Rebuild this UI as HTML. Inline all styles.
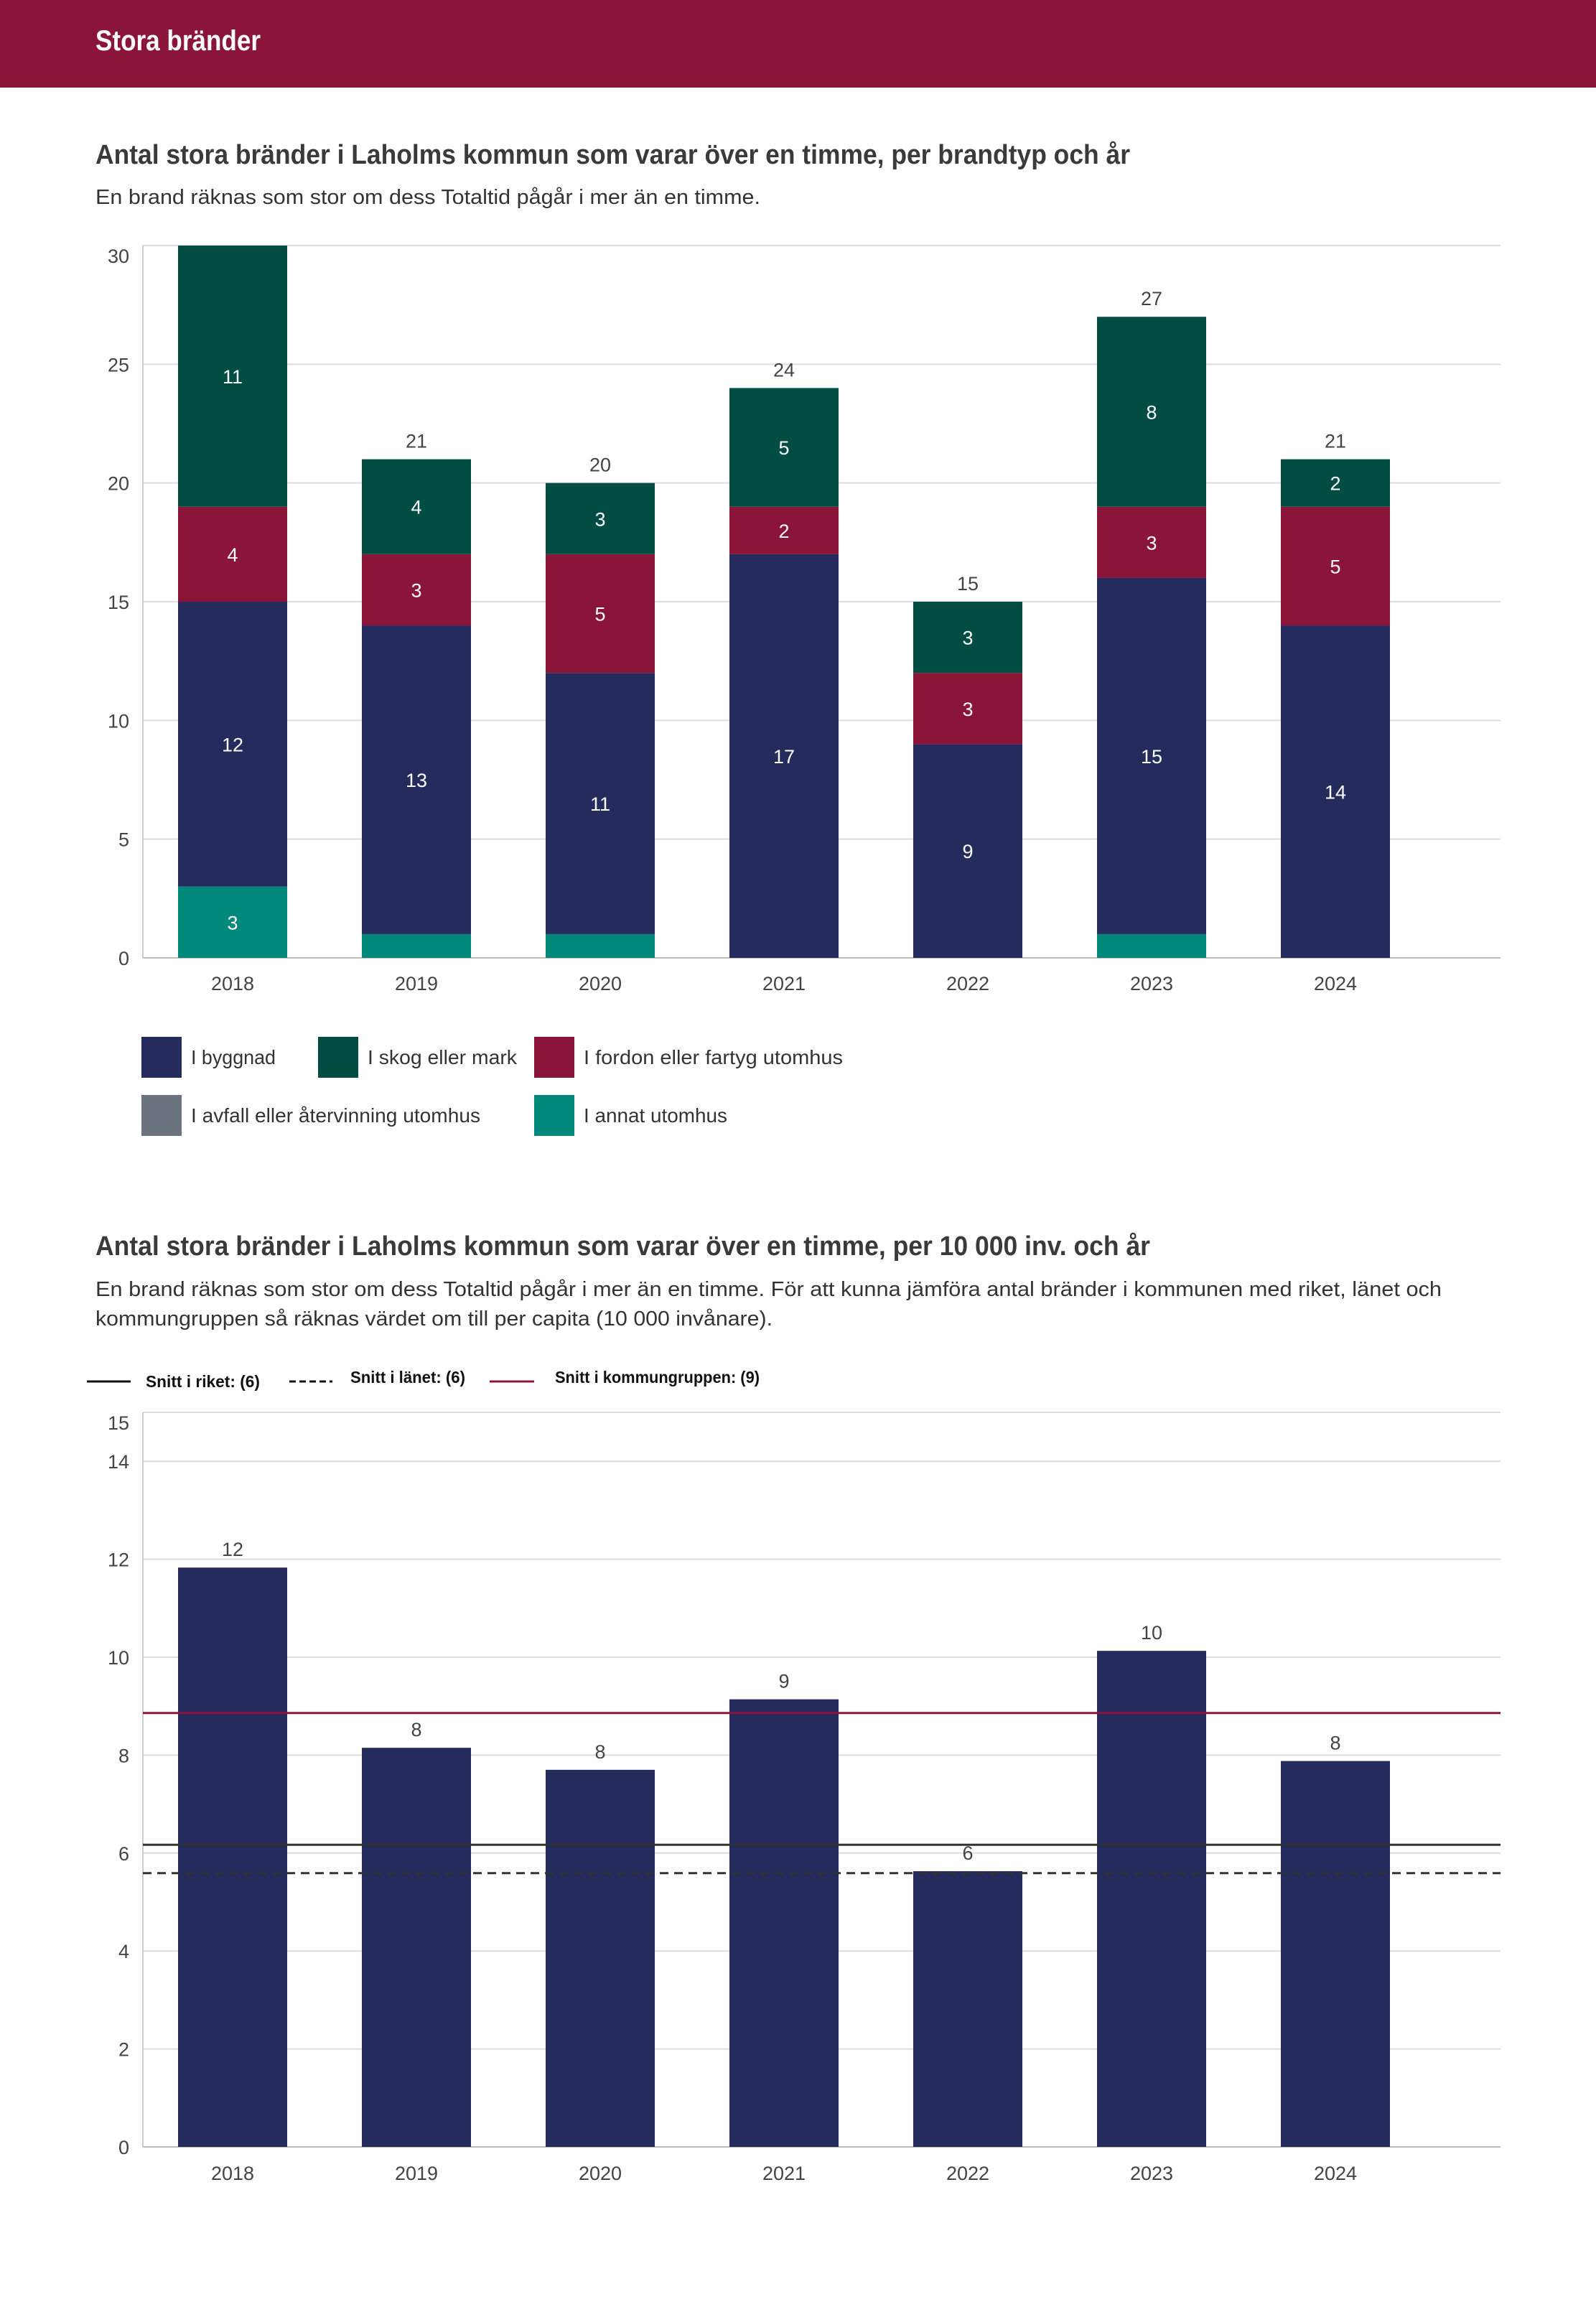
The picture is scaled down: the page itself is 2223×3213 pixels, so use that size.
<!DOCTYPE html>
<html><head><meta charset="utf-8"><style>
html,body{margin:0;padding:0;background:#fff}
svg{display:block}
text{font-family:"Liberation Sans",sans-serif}
</style></head><body>
<svg id="page" width="2223" height="3213" viewBox="0 0 2223 3213" xmlns="http://www.w3.org/2000/svg">
<rect x="0" y="0" width="2223" height="122" fill="#8B1538"/>
<text x="133" y="70" font-size="40" font-weight="bold" fill="#fff" textLength="230" lengthAdjust="spacingAndGlyphs">Stora bränder</text>

<text x="133" y="228" font-size="38" font-weight="bold" fill="#3a3a3a" textLength="1441" lengthAdjust="spacingAndGlyphs">Antal stora bränder i Laholms kommun som varar över en timme, per brandtyp och år</text>
<text x="133" y="284" font-size="29" fill="#333" textLength="926" lengthAdjust="spacingAndGlyphs">En brand räknas som stor om dess Totaltid pågår i mer än en timme.</text>
<g id="chart1"></g>
<g id="legend1"></g>

<text x="133" y="1748" font-size="38" font-weight="bold" fill="#3a3a3a" textLength="1469" lengthAdjust="spacingAndGlyphs">Antal stora bränder i Laholms kommun som varar över en timme, per 10 000 inv. och år</text>
<text x="133" y="1805" font-size="29" fill="#333" textLength="1875" lengthAdjust="spacingAndGlyphs">En brand räknas som stor om dess Totaltid pågår i mer än en timme. För att kunna jämföra antal bränder i kommunen med riket, länet och</text>
<text x="133" y="1846" font-size="29" fill="#333" textLength="943" lengthAdjust="spacingAndGlyphs">kommungruppen så räknas värdet om till per capita (10 000 invånare).</text>
<g id="legend2">
<line x1="121" y1="1924" x2="182" y2="1924" stroke="#111" stroke-width="3"/>
<text x="203" y="1932" font-size="23" font-weight="bold" fill="#111" textLength="159" lengthAdjust="spacingAndGlyphs">Snitt i riket: (6)</text>
<line x1="403" y1="1924" x2="463" y2="1924" stroke="#111" stroke-width="3" stroke-dasharray="9,5"/>
<text x="488" y="1926" font-size="23" font-weight="bold" fill="#111" textLength="160" lengthAdjust="spacingAndGlyphs">Snitt i länet: (6)</text>
<line x1="682" y1="1924" x2="744" y2="1924" stroke="#8B1538" stroke-width="3"/>
<text x="773" y="1926" font-size="23" font-weight="bold" fill="#111" textLength="285" lengthAdjust="spacingAndGlyphs">Snitt i kommungruppen: (9)</text>
</g>
<g id="chart2"></g>
</svg>
<script>
const years = ["2018","2019","2020","2021","2022","2023","2024"];
const byggnad = [12,13,11,17,9,15,14];
const skog = [11,4,3,5,3,8,2];
const fordon = [4,3,5,2,3,3,5];
const avfall = [0,0,0,0,0,0,0];
const annat = [3,1,1,0,0,1,0];
const ticks1 = [0,5,10,15,20,25,30];

const perCapita = [11.83,8.15,7.7,9.14,5.63,10.13,7.88];
const ticks2 = [0,2,4,6,8,10,12,14,15];
const snittRiket = [6.17];
const snittLanet = [5.59];
const snittKommungrupp = [8.86];

const NS = "http://www.w3.org/2000/svg";
function mk(parent, tag, attrs, txt){
  const e = document.createElementNS(NS, tag);
  for (const k in attrs) e.setAttribute(k, attrs[k]);
  if (txt !== undefined) e.textContent = txt;
  parent.appendChild(e);
  return e;
}

// ---------- Chart 1 ----------
(function(){
  const g = document.getElementById('chart1');
  const x0 = 199, x1 = 2090, yTop = 342, yBot = 1334, maxV = 30;
  const y = v => yBot - (yBot - yTop) * v / maxV;
  const step = 256, firstC = 324, bw = 152;
  const xc = i => firstC + i * step;
  ticks1.forEach(t => {
    const l = mk(g, 'line', {x1:x0, x2:x1, y1:y(t), y2:y(t), stroke: t===0?'#bbb':'#ddd', 'stroke-width':2});
    
    
    const off = t === maxV ? 24 : 10;
    const tx = mk(g, 'text', {x:180, y:y(t)+off, 'font-size':27, fill:'#444', 'text-anchor':'end'}, String(t));
    
    
  });
  const ax = mk(g, 'line', {x1:x0, x2:x0, y1:yTop, y2:yBot, stroke:'#ccc', 'stroke-width':2});
  
  
  const series = [
    {name:'annat', vals:annat, color:'#00897B'},
    {name:'avfall', vals:avfall, color:'#6B737E'},
    {name:'byggnad', vals:byggnad, color:'#252B5C'},
    {name:'fordon', vals:fordon, color:'#8B1538'},
    {name:'skog', vals:skog, color:'#014D44'}
  ];
  years.forEach((yr, i) => {
    let acc = 0;
    series.forEach(s => {
      const v = s.vals[i];
      if (v <= 0) return;
      const r = mk(g, 'rect', {x:xc(i)-bw/2, y:y(acc+v), width:bw, height:y(acc)-y(acc+v), fill:s.color});
      
      
      if (v >= 2) {
        const t = mk(g, 'text', {x:xc(i), y:(y(acc)+y(acc+v))/2+10, 'font-size':27, fill:'#fff', 'text-anchor':'middle'}, String(v));
        
        
      }
      acc += v;
    });
    if (acc < maxV) {
      const t = mk(g, 'text', {x:xc(i), y:y(acc)-16, 'font-size':27, fill:'#444', 'text-anchor':'middle'}, String(acc));
      
      
    }
    const xl = mk(g, 'text', {x:xc(i), y:1379, 'font-size':27, fill:'#444', 'text-anchor':'middle'}, yr);
    
    
  });
  // legend
  const lg = document.getElementById('legend1');
  const items = [
    {label:'I byggnad', color:'#252B5C', sx:197, tx:266, row:0, w:118},
    {label:'I skog eller mark', color:'#014D44', sx:443, tx:512, row:0, w:208},
    {label:'I fordon eller fartyg utomhus', color:'#8B1538', sx:744, tx:813, row:0, w:361},
    {label:'I avfall eller återvinning utomhus', color:'#6B737E', sx:197, tx:266, row:1, w:403},
    {label:'I annat utomhus', color:'#00897B', sx:744, tx:813, row:1, w:200}
  ];
  items.forEach((it, k) => {
    const top = it.row ? 1525 : 1444;
    const r = mk(lg, 'rect', {x:it.sx, y:top, width:56, height:57, fill:it.color});
    
    
    const t = mk(lg, 'text', {x:it.tx, y:top+38, 'font-size':28, fill:'#333', textLength:it.w, lengthAdjust:'spacingAndGlyphs'}, it.label);
    
    
  });
})();

// ---------- Chart 2 ----------
(function(){
  const g = document.getElementById('chart2');
  const x0 = 199, x1 = 2090, yTop = 1967, yBot = 2990, maxV = 15;
  const y = v => yBot - (yBot - yTop) * v / maxV;
  const step = 256, firstC = 324, bw = 152;
  const xc = i => firstC + i * step;
  ticks2.forEach(t => {
    const l = mk(g, 'line', {x1:x0, x2:x1, y1:y(t), y2:y(t), stroke: t===0?'#bbb':'#ddd', 'stroke-width':2});
    
    
    const off = t === maxV ? 24 : 10;
    const tx = mk(g, 'text', {x:180, y:y(t)+off, 'font-size':27, fill:'#444', 'text-anchor':'end'}, String(t));
    
    
  });
  const ax = mk(g, 'line', {x1:x0, x2:x0, y1:yTop, y2:yBot, stroke:'#ccc', 'stroke-width':2});
  
  
  years.forEach((yr, i) => {
    const v = perCapita[i];
    const r = mk(g, 'rect', {x:xc(i)-bw/2, y:y(v), width:bw, height:yBot-y(v), fill:'#252B5C'});
    
    
    const t = mk(g, 'text', {x:xc(i), y:y(v)-16, 'font-size':27, fill:'#444', 'text-anchor':'middle'}, String(Math.round(v)));
    
    
    const xl = mk(g, 'text', {x:xc(i), y:3036, 'font-size':27, fill:'#444', 'text-anchor':'middle'}, yr);
    
    
  });
  const l1 = mk(g, 'line', {x1:x0, x2:x1, y1:y(snittRiket[0]), y2:y(snittRiket[0]), stroke:'#333', 'stroke-width':3});
  
  
  const l2 = mk(g, 'line', {x1:x0, x2:x1, y1:y(snittLanet[0]), y2:y(snittLanet[0]), stroke:'#333', 'stroke-width':3, 'stroke-dasharray':'12,8'});
  
  
  const l3 = mk(g, 'line', {x1:x0, x2:x1, y1:y(snittKommungrupp[0]), y2:y(snittKommungrupp[0]), stroke:'#8B1538', 'stroke-width':3});
  
  
})();
</script>
</body></html>
